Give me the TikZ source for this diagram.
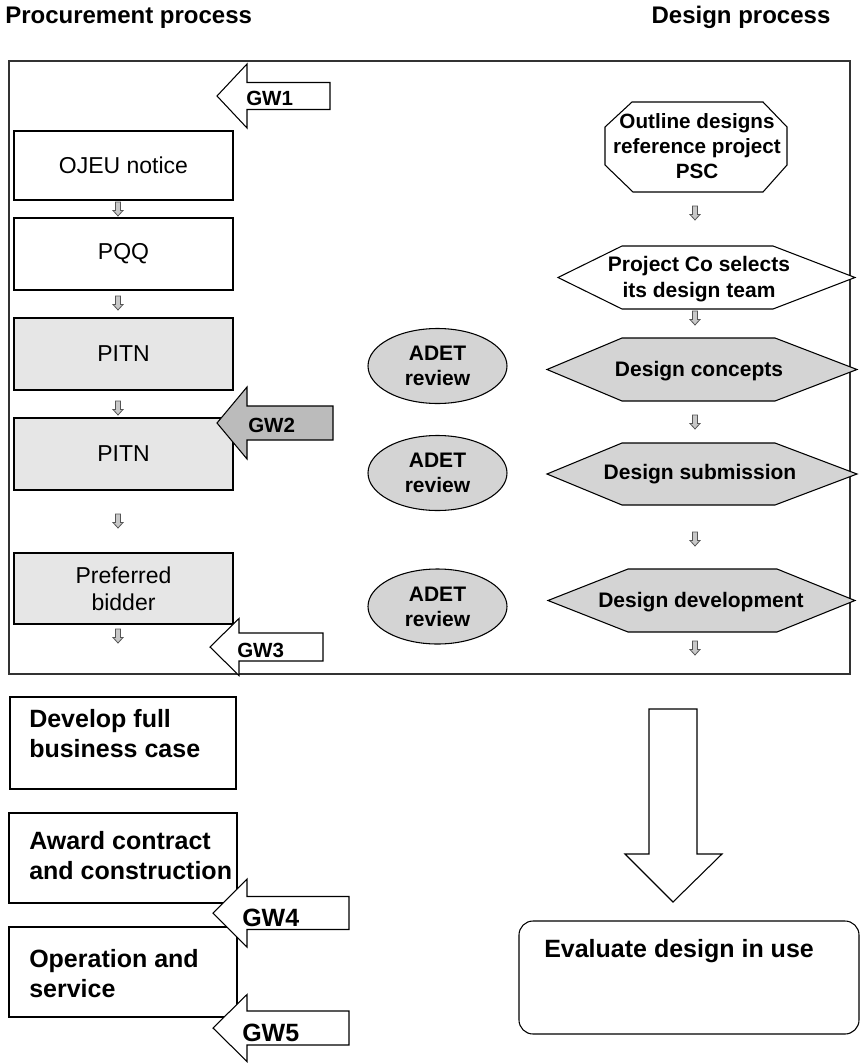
\documentclass[tikz,border=0pt]{standalone}
\usepackage{fontspec}
\setmainfont{Liberation Sans}
\usetikzlibrary{shapes.geometric}

\definecolor{panelgray}{HTML}{E6E6E6}
\definecolor{stepgray}{HTML}{D4D4D4}
\definecolor{gwgray}{HTML}{BBBBBB}
\definecolor{tickgray}{HTML}{C8C8C8}
\definecolor{tickline}{HTML}{555555}
\definecolor{framegray}{HTML}{333333}

% block arrow pointing left: tip x, centre y, back of head x, tail x, shaft half height, head half height, fill
\newcommand{\gateway}[7]{%
  \draw[outline, fill=#7] (#1,#2) -- (#3,#2-#6) -- (#3,#2-#5) -- (#4,#2-#5)
    -- (#4,#2+#5) -- (#3,#2+#5) -- (#3,#2+#6) -- cycle;}
% hexagonal design step: left x, right x, centre y, half height, left inset, right inset, fill
\newcommand{\hexstep}[7]{%
  \draw[outline, fill=#7] (#1,#3) -- (#1+#5,#3-#4) -- (#2-#6,#3-#4) -- (#2,#3)
    -- (#2-#6,#3+#4) -- (#1+#5,#3+#4) -- cycle;}

\begin{document}
\begin{tikzpicture}[x=0.75pt,y=-0.75pt,
  outline/.style={draw=black, line width=0.8pt},
  title/.style={font=\bfseries\fontsize{18}{21}\selectfont, inner sep=0pt},
  procbox/.style={outline, rectangle, inner sep=0pt, minimum width=219*0.75pt,
    font=\fontsize{17.25}{20.5}\selectfont, align=center},
  stagebox/.style={outline, rectangle, inner sep=0pt, minimum width=228*0.75pt},
  stagetext/.style={font=\bfseries\fontsize{18.75}{22.5}\selectfont, align=left, inner sep=0pt},
  steptext/.style={font=\bfseries\fontsize{15.75}{20}\selectfont, align=center, inner sep=0pt},
  review/.style={outline, ellipse, fill=stepgray, minimum width=139*0.75pt, minimum height=75*0.75pt,
    inner sep=0pt, font=\bfseries\fontsize{15.75}{18.75}\selectfont, align=center},
  gwtext/.style={font=\bfseries\fontsize{15.4}{18}\selectfont, inner sep=0pt},
  gwtextbig/.style={font=\bfseries\fontsize{18.75}{22}\selectfont, inner sep=0pt},
  tick/.style={draw=tickline, fill=tickgray, line width=0.6pt},
  dnarrow/.pic={\draw[tick] (-2.5,0) -- (2.5,0) -- (2.5,8.5) -- (5,8.5) -- (0,14) -- (-5,8.5) -- (-2.5,8.5) -- cycle;}
]
\useasboundingbox (0,0) rectangle (860,1063);

% column headings
\node[title, anchor=base west] (hproc) at (5,24) {Procurement process};
\node[title, anchor=base] (hdes) at (741,24) {Design process};

% frame around the procurement and design stages
\draw[draw=framegray, line width=1.1pt] (9,61) rectangle (850,674);

% procurement column
\node[procbox, minimum height=69*0.75pt] (ojeu) at (123.5,165.5) {OJEU notice};
\node[procbox, minimum height=72*0.75pt] (pqq) at (123.5,254) {PQQ};
\node[procbox, fill=panelgray, minimum height=72*0.75pt] (pitna) at (123.5,354) {PITN};
\node[procbox, fill=panelgray, minimum height=72*0.75pt] (pitnb) at (123.5,454) {PITN};
\node[procbox, fill=panelgray, minimum height=71*0.75pt] (pref) at (123.5,588.5) {Preferred\\bidder};

\pic at (118,202) {dnarrow};
\pic at (118,296) {dnarrow};
\pic at (118,401) {dnarrow};
\pic at (118,514) {dnarrow};
\pic at (118,629) {dnarrow};

% gateways inside the frame
\gateway{217}{96}{247}{330}{13.5}{32}{white}
\node[gwtext, anchor=west] (gwa) at (246,98) {GW1};
\gateway{217}{423}{247}{333}{17}{36}{gwgray}
\node[gwtext, anchor=west] (gwb) at (248,425) {GW2};
\gateway{210}{647}{239}{323}{14}{28.5}{white}
\node[gwtext, anchor=west] (gwc) at (237,650) {GW3};

% ADET reviews
\node[review] (adeta) at (437.5,366) {ADET\\review};
\node[review] (adetb) at (437.5,473) {ADET\\review};
\node[review] (adetc) at (437.5,606.5) {ADET\\review};

% design column
\draw[outline, fill=white] (632,102) -- (763,102) -- (787,127) -- (787,165) -- (763,192)
  -- (633,192) -- (605,165) -- (605,127) -- cycle;
\node[steptext, font=\bfseries\fontsize{15.5}{18.75}\selectfont] (psc) at (697,146)
  {Outline designs\\reference project\\PSC};

\hexstep{558}{855}{277.5}{31.5}{64}{82}{white}
\node[steptext] (team) at (699,279) {Project Co selects\\its design team};
\hexstep{547}{857}{369.5}{31.5}{75}{82}{stepgray}
\node[steptext] (concepts) at (699,371) {Design concepts};
\hexstep{547}{857}{474}{31}{75}{82}{stepgray}
\node[steptext] (submission) at (700,474) {Design submission};
\hexstep{548}{855}{600.5}{31.5}{80}{78}{stepgray}
\node[steptext] (development) at (701,602) {Design development};

\pic at (695,206) {dnarrow};
\pic at (695,311) {dnarrow};
\pic at (695,415) {dnarrow};
\pic at (695,532) {dnarrow};
\pic at (695,641) {dnarrow};

% later procurement stages
\node[stagebox, minimum width=226*0.75pt, minimum height=92*0.75pt] (fbc) at (123,743) {};
\node[stagetext, anchor=north west] (fbctext) at (29,709) {Develop full\\business case};
\node[stagebox, minimum height=90*0.75pt] (award) at (123,858) {};
\node[stagetext, anchor=north west] (awardtext) at (29,831) {Award contract\\and construction};
\node[stagebox, minimum height=90*0.75pt] (oper) at (123,972) {};
\node[stagetext, anchor=north west] (opertext) at (29,949) {Operation and\\service};

\gateway{213}{913}{247}{349}{16.5}{34}{white}
\node[gwtextbig, anchor=west] (gwd) at (242,918) {GW4};
\gateway{213}{1028}{247}{349}{17}{33.5}{white}
\node[gwtextbig, anchor=west] (gwe) at (242,1033) {GW5};

% hand-over to evaluation in use
\draw[outline, fill=white] (649,709) -- (697,709) -- (697,854) -- (722,854) -- (673,902)
  -- (625,854) -- (649,854) -- cycle;
\node[outline, rectangle, rounded corners=14*0.75pt, minimum width=340*0.75pt,
  minimum height=113*0.75pt, inner sep=0pt] (evalbox) at (689,977.5) {};
\node[stagetext, anchor=base west] (evaltext) at (544,957) {Evaluate design in use};

\end{tikzpicture}
\end{document}
